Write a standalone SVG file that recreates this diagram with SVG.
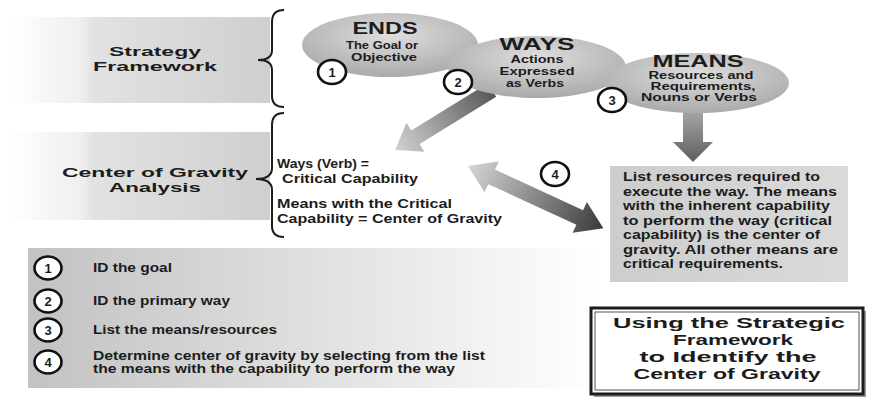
<svg xmlns="http://www.w3.org/2000/svg" width="869" height="398" viewBox="0 0 869 398">
<defs>
<linearGradient id="bandGrad" x1="0" y1="0" x2="1" y2="0">
<stop offset="0" stop-color="#ffffff"/>
<stop offset="0.28" stop-color="#eeeeee"/>
<stop offset="0.32" stop-color="#e2e2e2"/>
<stop offset="1" stop-color="#cfcfcf"/>
</linearGradient>
<radialGradient id="ellGrad" cx="0.5" cy="0.35" r="0.7">
<stop offset="0" stop-color="#dedede"/>
<stop offset="1" stop-color="#a6a6a6"/>
</radialGradient>
<linearGradient id="listGrad" x1="0" y1="0" x2="1" y2="0">
<stop offset="0" stop-color="#c2c2c2"/>
<stop offset="0.6" stop-color="#e6e6e6"/>
<stop offset="1" stop-color="#ffffff"/>
</linearGradient>
<linearGradient id="boxGrad" x1="0" y1="0" x2="1" y2="0">
<stop offset="0" stop-color="#cdcdcd"/>
<stop offset="1" stop-color="#dadada"/>
</linearGradient>
<linearGradient id="arrAGrad" gradientUnits="userSpaceOnUse" x1="0" y1="0" x2="114" y2="0">
<stop offset="0" stop-color="#575757"/>
<stop offset="1" stop-color="#d2d2d2"/>
</linearGradient>
<linearGradient id="arrBGrad" x1="0" y1="0" x2="0" y2="1">
<stop offset="0" stop-color="#a8a8a8"/>
<stop offset="1" stop-color="#5e5e5e"/>
</linearGradient>
<linearGradient id="arrCGrad" gradientUnits="userSpaceOnUse" x1="0" y1="0" x2="149" y2="0">
<stop offset="0" stop-color="#d6d6d6"/>
<stop offset="1" stop-color="#3a3a3a"/>
</linearGradient>
</defs>
<style>
.t{font-family:"Liberation Sans",Arial,sans-serif;font-weight:bold;fill:#1c1c1c;}
.c{text-anchor:middle;}
.band{fill:url(#bandGrad);}
.ell{fill:url(#ellGrad);}
.num{fill:#ffffff;stroke:#111111;stroke-width:2.6;}
.brace{fill:none;stroke:#1c1c1c;stroke-width:2;}
.h1{font-size:13px;}
.big{font-size:16px;}
.sub{font-size:10.5px;}
.cog{font-size:13px;}
.box{font-size:12.5px;}
.lst{font-size:12px;}
.ttl{font-size:15px;}
.nt{font-size:13px;}
</style>
<rect width="869" height="398" fill="#ffffff"/>

<g id="band-strategy">
<rect class="band" x="10" y="17" width="260" height="86"/>
<text class="t c h1" x="155" y="56" textLength="92" lengthAdjust="spacingAndGlyphs">Strategy</text>
<text class="t c h1" x="155" y="71" textLength="124" lengthAdjust="spacingAndGlyphs">Framework</text>
</g>

<g id="band-cog">
<rect class="band" x="10" y="132" width="260" height="88"/>
<text class="t c h1" x="155" y="177" textLength="186" lengthAdjust="spacingAndGlyphs">Center of Gravity</text>
<text class="t c h1" x="155" y="192" textLength="92" lengthAdjust="spacingAndGlyphs">Analysis</text>
</g>

<g id="braces">
<path class="brace" d="M284,10 Q272,10 272,22 L272,50 Q272,60 258,60 Q272,60 272,70 L272,96 Q272,107 284,107"/>
<path class="brace" d="M284,113 Q272,113 272,125 L272,168 Q272,179 256,179 Q272,179 272,190 L272,226 Q272,237 284,237"/>
</g>

<g id="connectors">
<polygon points="0,-8 90,-8 90,-17 114,0 90,17 90,8 0,8" fill="url(#arrAGrad)" transform="translate(492,90) rotate(148.3)"/>
<polygon points="683,110 703,110 703,142 713,142 693,162 673,142 683,142" fill="url(#arrBGrad)"/>
<polygon points="0,0 26,-17 26,-8 123,-8 123,-17 149,0 123,17 123,8 26,8 26,17" fill="url(#arrCGrad)" transform="translate(468,166) rotate(24.7)"/>
</g>

<g id="ends">
<ellipse class="ell" cx="390" cy="45" rx="88" ry="32"/>
<text class="t c big" x="385" y="34" textLength="65" lengthAdjust="spacingAndGlyphs">ENDS</text>
<text class="t c sub" x="382" y="49" textLength="72" lengthAdjust="spacingAndGlyphs">The Goal or</text>
<text class="t c sub" x="384" y="61" textLength="66" lengthAdjust="spacingAndGlyphs">Objective</text>
<ellipse class="num" cx="332" cy="72" rx="14" ry="12"/>
<text class="t c nt" x="332" y="77">1</text>
</g>

<g id="ways">
<ellipse class="ell" cx="537" cy="67" rx="89" ry="31"/>
<text class="t c big" x="537" y="50" textLength="75" lengthAdjust="spacingAndGlyphs">WAYS</text>
<text class="t c sub" x="537" y="63" textLength="53" lengthAdjust="spacingAndGlyphs">Actions</text>
<text class="t c sub" x="537" y="75" textLength="75" lengthAdjust="spacingAndGlyphs">Expressed</text>
<text class="t c sub" x="535" y="87" textLength="58" lengthAdjust="spacingAndGlyphs">as Verbs</text>
<ellipse class="num" cx="458" cy="82" rx="14" ry="12"/>
<text class="t c nt" x="458" y="87">2</text>
</g>

<g id="means">
<ellipse class="ell" cx="697" cy="83" rx="92" ry="30"/>
<text class="t c big" x="698" y="67" textLength="91" lengthAdjust="spacingAndGlyphs">MEANS</text>
<text class="t c sub" x="701" y="79" textLength="105" lengthAdjust="spacingAndGlyphs">Resources and</text>
<text class="t c sub" x="703" y="90" textLength="105" lengthAdjust="spacingAndGlyphs">Requirements,</text>
<text class="t c sub" x="699" y="101" textLength="116" lengthAdjust="spacingAndGlyphs">Nouns or Verbs</text>
<ellipse class="num" cx="612" cy="100" rx="14" ry="12"/>
<text class="t c nt" x="612" y="105">3</text>
</g>

<g id="cog-text">
<text class="t cog" x="277" y="168" textLength="92" lengthAdjust="spacingAndGlyphs">Ways (Verb) =</text>
<text class="t cog" x="282" y="183" textLength="136" lengthAdjust="spacingAndGlyphs">Critical Capability</text>
<text class="t cog" x="277" y="208" textLength="175" lengthAdjust="spacingAndGlyphs">Means with the Critical</text>
<text class="t cog" x="277" y="223" textLength="225" lengthAdjust="spacingAndGlyphs">Capability = Center of Gravity</text>
</g>

<g id="step4">
<ellipse class="num" cx="555" cy="174" rx="14" ry="12"/>
<text class="t c nt" x="555" y="179">4</text>
</g>

<g id="resources-box">
<rect x="610" y="166" width="238" height="116" fill="url(#boxGrad)"/>
<text class="t box" x="623" y="181" textLength="197" lengthAdjust="spacingAndGlyphs">List resources required to</text>
<text class="t box" x="623" y="195.5" textLength="214" lengthAdjust="spacingAndGlyphs">execute the way. The means</text>
<text class="t box" x="623" y="210" textLength="207" lengthAdjust="spacingAndGlyphs">with the inherent capability</text>
<text class="t box" x="623" y="224.5" textLength="209" lengthAdjust="spacingAndGlyphs">to perform the way (critical</text>
<text class="t box" x="623" y="239" textLength="197" lengthAdjust="spacingAndGlyphs">capability) is the center of</text>
<text class="t box" x="623" y="253.5" textLength="215" lengthAdjust="spacingAndGlyphs">gravity. All other means are</text>
<text class="t box" x="623" y="268" textLength="160" lengthAdjust="spacingAndGlyphs">critical requirements.</text>
</g>

<g id="steps-list">
<rect x="28" y="248" width="572" height="140" fill="url(#listGrad)"/>
<ellipse class="num" cx="48" cy="268" rx="13.5" ry="11.5"/>
<text class="t c nt" x="48" y="273">1</text>
<ellipse class="num" cx="48" cy="301" rx="13.5" ry="11.5"/>
<text class="t c nt" x="48" y="306">2</text>
<ellipse class="num" cx="48" cy="330" rx="13.5" ry="11.5"/>
<text class="t c nt" x="48" y="335">3</text>
<ellipse class="num" cx="48" cy="362" rx="13.5" ry="11.5"/>
<text class="t c nt" x="48" y="367">4</text>
<text class="t lst" x="93" y="272" textLength="79" lengthAdjust="spacingAndGlyphs">ID the goal</text>
<text class="t lst" x="93" y="305" textLength="137" lengthAdjust="spacingAndGlyphs">ID the primary way</text>
<text class="t lst" x="93" y="334" textLength="184" lengthAdjust="spacingAndGlyphs">List the means/resources</text>
<text class="t lst" x="93" y="360" textLength="392" lengthAdjust="spacingAndGlyphs">Determine center of gravity by selecting from the list</text>
<text class="t lst" x="93" y="373" textLength="362" lengthAdjust="spacingAndGlyphs">the means with the capability to perform the way</text>
</g>

<g id="title-box">
<rect x="594" y="311" width="272" height="86" fill="#9a9a9a"/>
<rect x="591" y="308" width="272" height="86" fill="#ffffff" stroke="#1c1c1c" stroke-width="3"/>
<rect x="595" y="312" width="264" height="78" fill="none" stroke="#555555" stroke-width="1"/>
<text class="t c ttl" x="729" y="328" textLength="232" lengthAdjust="spacingAndGlyphs">Using the Strategic</text>
<text class="t c ttl" x="733" y="345" textLength="120" lengthAdjust="spacingAndGlyphs">Framework</text>
<text class="t c ttl" x="728" y="362" textLength="177" lengthAdjust="spacingAndGlyphs">to Identify the</text>
<text class="t c ttl" x="727" y="379" textLength="187" lengthAdjust="spacingAndGlyphs">Center of Gravity</text>
</g>
</svg>
